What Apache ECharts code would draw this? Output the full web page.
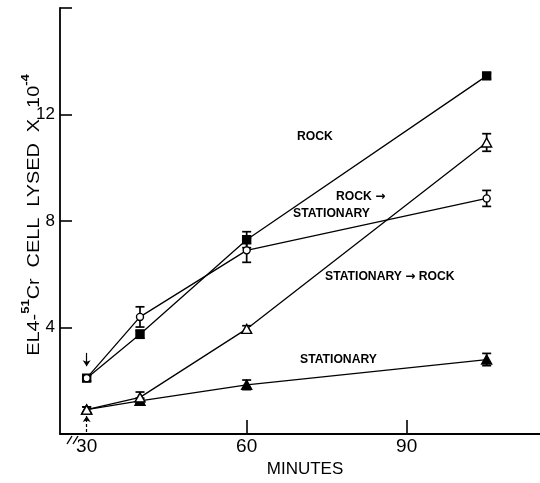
<!DOCTYPE html>
<html><head><meta charset="utf-8">
<script src="https://cdn.jsdelivr.net/npm/echarts@6/dist/echarts.min.js"></script>
<style>html,body{margin:0;padding:0;background:#fff}#c{width:540px;height:483px}</style>
</head><body><div id="c"></div>
<script>
// ---- data ----
const minutes = [30, 40, 60, 105];
const rock = [2.1, 3.75, 7.3, 13.45];
const rockErr = [0.1, 0.15, 0.3, 0.1];
const rockToStat = [2.1, 4.4, 6.9, 8.85];
const rockToStatErr = [0.1, 0.38, 0.45, 0.3];
const statToRock = [0.92, 1.38, 3.95, 10.95];
const statToRockErr = [0.1, 0.2, 0.12, 0.33];
const stationary = [0.92, 1.25, 1.85, 2.8];
const stationaryErr = [0.1, 0.1, 0.18, 0.23];
const xTickLabels = [30, 60, 90];
const xTicks = [60, 90];
const yTickLabels = [4, 8, 12];
const yTicks = [4, 8, 12, 16];

const FONT = 'Liberation Sans, Arial, sans-serif';

function errSeries(vals, errs) {
  return {
    type: 'custom', silent: true, z: 2, animation: false,
    encode: { x: 0, y: [1, 2] },
    data: minutes.map((m, i) => [m, vals[i] - errs[i], vals[i] + errs[i]]),
    renderItem(params, api) {
      const lo = api.coord([api.value(0), api.value(1)]);
      const hi = api.coord([api.value(0), api.value(2)]);
      const w = 4.5;
      const st = { stroke: '#000', lineWidth: 1.7 };
      return { type: 'group', children: [
        { type: 'line', shape: { x1: lo[0], y1: lo[1], x2: hi[0], y2: hi[1] }, style: st },
        { type: 'line', shape: { x1: lo[0] - w, y1: lo[1], x2: lo[0] + w, y2: lo[1] }, style: st },
        { type: 'line', shape: { x1: hi[0] - w, y1: hi[1], x2: hi[0] + w, y2: hi[1] }, style: st }
      ]};
    }
  };
}
function lineSeries(name, vals, symbol, size, filled, z) {
  return {
    type: 'line', name, z: z, animation: false, silent: true,
    data: minutes.map((m, i) => [m, vals[i]]),
    symbol, symbolSize: size, showSymbol: true,
    lineStyle: { color: '#000', width: 1.3 },
    itemStyle: { color: filled ? '#000' : '#fff', borderColor: '#000', borderWidth: 1.4 }
  };
}

const rockSeries = lineSeries('ROCK', rock, 'rect', 8, true, 3);
rockSeries.markLine = {
  silent: true, symbol: ['none', 'arrow'], symbolSize: 6, animation: false,
  label: { show: false },
  lineStyle: { color: '#000', type: 'solid', width: 1.2 },
  data: [
    [{ coord: [30, 3.05] }, { coord: [30, 2.55] }],
    [{ coord: [30, 0.08], lineStyle: { type: [3, 2] } }, { coord: [30, 0.68] }]
  ]
};

const annoRich = {
  t: { fontSize: 12.2, fontWeight: 'bold', fontFamily: FONT, fill: '#000' },
  a: { fontSize: 12, fontWeight: 'bold', fontFamily: 'DejaVu Sans', fill: '#000' }
};
function anno(x, y, text) {
  return { type: 'text', x, y, silent: true,
    style: { text, rich: annoRich, align: 'left', verticalAlign: 'middle' } };
}

const chart = echarts.init(document.getElementById('c'), null, { renderer: 'canvas' });
chart.setOption({
  backgroundColor: '#fff',
  animation: false,
  grid: { left: 60, right: 0, top: 8, bottom: 43, containLabel: false },
  xAxis: {
    type: 'value', min: 25, max: 115,
    axisLine: { show: true, lineStyle: { color: '#000', width: 1.8 } },
    axisTick: { show: true, inside: true, length: 14, customValues: xTicks, lineStyle: { color: '#000', width: 1.6 } },
    axisLabel: { customValues: xTickLabels, color: '#000', fontSize: 19, fontFamily: FONT, margin: 3 },
    splitLine: { show: false },
    name: 'MINUTES', nameLocation: 'middle', nameGap: 25,
    nameTextStyle: { color: '#000', fontSize: 17, fontFamily: FONT, padding: [0, 0, 0, 10] }
  },
  yAxis: {
    type: 'value', min: 0, max: 16,
    axisLine: { show: true, lineStyle: { color: '#000', width: 1.8 } },
    axisTick: { show: true, inside: true, length: 12, customValues: yTicks, lineStyle: { color: '#000', width: 1.6 } },
    axisLabel: { customValues: yTickLabels, color: '#000', fontSize: 17, fontFamily: FONT, margin: 5 },
    splitLine: { show: false }
  },
  series: [
    errSeries(rock, rockErr),
    errSeries(rockToStat, rockToStatErr),
    errSeries(statToRock, statToRockErr),
    errSeries(stationary, stationaryErr),
    rockSeries,
    lineSeries('ROCK → STATIONARY', rockToStat, 'circle', 7, false, 4),
    lineSeries('STATIONARY', stationary, 'triangle', [10, 9], true, 3),
    lineSeries('STATIONARY → ROCK', statToRock, 'triangle', [10, 9], false, 4)
  ],
  graphic: [
    { type: 'text', x: 32, y: 215, rotation: Math.PI / 2, scaleX: 1.24, silent: true,
      style: {
        text: '{m|EL4-}{s|51}{m|Cr  CELL  LYSED  X  10}{s|-4}',
        align: 'center', verticalAlign: 'middle',
        rich: {
          m: { fontSize: 16, fontFamily: FONT, fill: '#000', lineHeight: 22, verticalAlign: 'bottom' },
          s: { fontSize: 10.5, fontFamily: FONT, fontWeight: 'bold', fill: '#000', lineHeight: 22, verticalAlign: 'top' }
        }
      } },
    anno(297, 137, '{t|ROCK}'),
    anno(336, 197, '{t|ROCK }{a|→}'),
    anno(293, 214, '{t|STATIONARY}'),
    anno(325, 277, '{t|STATIONARY }{a|→}{t| ROCK}'),
    anno(300, 360, '{t|STATIONARY}'),
    { type: 'rect', silent: true, shape: { x: 67, y: 437, width: 11, height: 6 }, style: { fill: '#fff' }, z: 100 },
    { type: 'line', silent: true, shape: { x1: 67, y1: 444, x2: 72, y2: 436 }, style: { stroke: '#000', lineWidth: 1.4 }, z: 101 },
    { type: 'line', silent: true, shape: { x1: 73, y1: 444, x2: 78, y2: 436 }, style: { stroke: '#000', lineWidth: 1.4 }, z: 101 }
  ]
});
</script>
</body></html>
